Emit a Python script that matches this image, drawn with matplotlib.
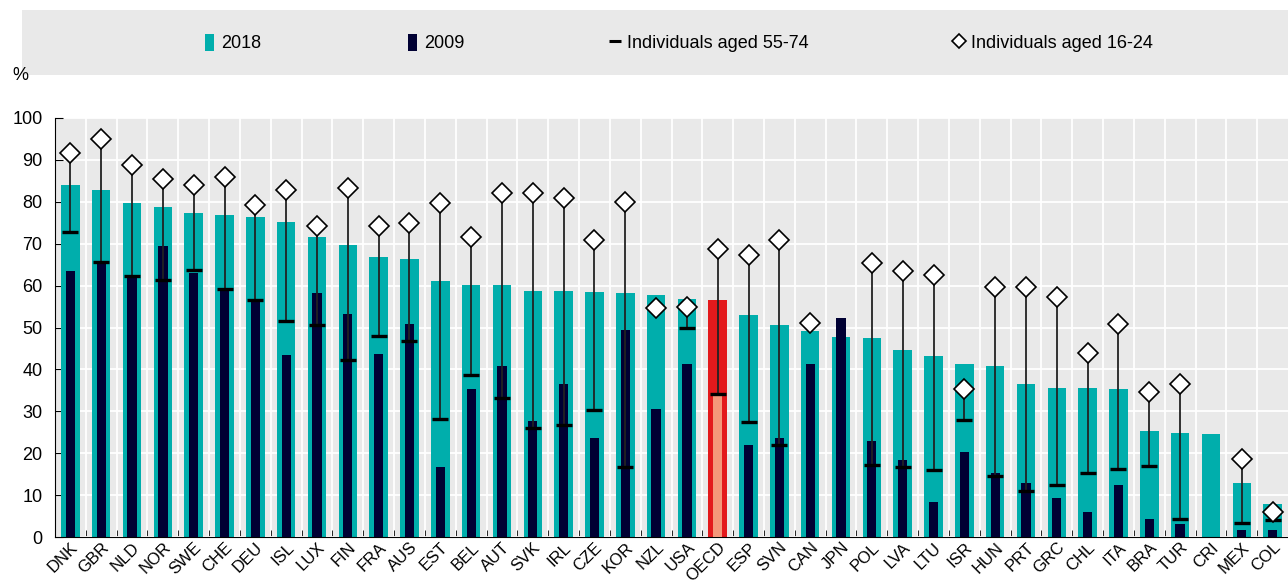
import matplotlib
matplotlib.use("Agg")
import matplotlib.pyplot as plt
import numpy as np
from matplotlib.lines import Line2D
from matplotlib.patches import Patch, Rectangle

plt.rcParams['font.family'] = ['Liberation Sans', 'DejaVu Sans']

countries = ["DNK", "GBR", "NLD", "NOR", "SWE", "CHE", "DEU", "ISL", "LUX", "FIN",
             "FRA", "AUS", "EST", "BEL", "AUT", "SVK", "IRL", "CZE", "KOR", "NZL",
             "USA", "OECD", "ESP", "SVN", "CAN", "JPN", "POL", "LVA", "LTU", "ISR",
             "HUN", "PRT", "GRC", "CHL", "ITA", "BRA", "TUR", "CRI", "MEX", "COL"]
nan = np.nan
val_2018 = [84.0, 82.7, 79.7, 78.7, 77.4, 76.8, 76.4, 75.1, 71.5, 69.8,
            66.8, 66.4, 61.1, 60.1, 60.1, 58.8, 58.8, 58.5, 58.2, 57.8,
            56.8, 56.5, 53.1, 50.5, 49.2, 47.8, 47.5, 44.6, 43.2, 41.2,
            40.9, 36.5, 35.6, 35.6, 35.3, 25.2, 24.9, 24.6, 13.0, 7.9]
val_2009 = [63.4, 65.7, 62.2, 69.5, 62.9, 59.1, 56.5, 43.5, 58.2, 53.2,
            43.6, 50.8, 16.6, 35.3, 40.9, 27.6, 36.5, 23.6, 49.5, 30.5,
            41.2, 34.3, 21.9, 23.6, 41.2, 52.2, 22.9, 18.3, 8.4, 20.3,
            15.3, 13.0, 9.3, 6.0, 12.3, 4.4, 3.0, nan, 1.7, 1.7]
aged_55_74 = [72.7, 65.7, 62.2, 61.4, 63.8, 59.1, 56.5, 51.5, 50.5, 42.2,
              47.9, 46.8, 28.2, 38.6, 33.2, 25.9, 26.7, 30.2, 16.6, nan,
              49.8, 34.2, 27.5, 22.0, nan, nan, 17.3, 16.6, 15.9, 27.9,
              14.6, 11.0, 12.3, 15.3, 16.3, 16.9, 4.4, nan, 3.3, 4.0]
aged_16_24 = [91.6, 94.9, 88.9, 85.5, 83.9, 85.9, 79.2, 82.9, 74.2, 83.2,
              74.2, 74.9, 79.6, 71.6, 82.0, 82.0, 80.9, 71.0, 80.0, 54.6,
              55.0, 68.7, 67.2, 71.0, 51.0, nan, 65.3, 63.6, 62.6, 35.4,
              59.7, 59.7, 57.3, 44.0, 50.8, 34.7, 36.4, nan, 18.5, 6.0]

teal = "#00AEAC"
navy = "#000033"
bg = "#E9E9E9"
fs = 13

x = np.arange(len(countries))
c2018 = ["#E3191C" if c == "OECD" else teal for c in countries]
c2009 = ["#F4977A" if c == "OECD" else navy for c in countries]

fig = plt.figure(figsize=(12.88, 5.88), dpi=100)
ax = fig.add_axes([55 / 1288, 1 - 537 / 588, 1 - 55 / 1288, (537 - 118) / 588])
ax.set_facecolor(bg)

ax.bar(x, val_2018, width=0.6, color=c2018, zorder=2)
ax.bar(x, np.nan_to_num(val_2009), width=0.3, color=c2009, zorder=3)

old = np.array(aged_55_74)
young = np.array(aged_16_24)
both = ~np.isnan(old) & ~np.isnan(young)
ax.vlines(x[both], old[both], young[both], color="#222222", lw=1.3, zorder=4)
ax.plot(x, old, ls="none", marker="_", ms=11, mew=2.4, color="black", zorder=5)
ax.plot(x, young, ls="none", marker="D", ms=10, mfc="white", mec="black", mew=1.2, zorder=6)

ax.set_xlim(-0.5, len(countries) - 0.5)
ax.set_ylim(0, 100)
ax.set_yticks(np.arange(0, 101, 10))
ax.set_xticks(x)
ax.set_xticklabels(countries, rotation=45, ha="right", va="top", rotation_mode="anchor")
ax.set_xticks(x[:-1] + 0.5, minor=True)
ax.tick_params(axis="x", which="major", length=0, labelsize=12, pad=2)
ax.tick_params(axis="x", which="minor", direction="in", length=5, color="black")
ax.tick_params(axis="y", direction="in", length=6, labelsize=fs, pad=9)
ax.grid(axis="y", color="white", lw=1.3, zorder=0)
ax.grid(axis="x", which="minor", color="white", lw=1.3, zorder=0)
ax.set_axisbelow(True)
for s in ["top", "right"]:
    ax.spines[s].set_visible(False)
ax.spines["left"].set_color("black")
ax.spines["bottom"].set_color("black")

fig.text(20 / 1288, 1 - 76 / 588, "%", fontsize=fs, ha="center", va="center")

# legend band
fig.patches.append(Rectangle((22 / 1288, 1 - 75 / 588), 1 - 22 / 1288, 65 / 588,
                             transform=fig.transFigure, facecolor=bg, edgecolor="none", zorder=0))
handles = [
    Patch(facecolor=teal, edgecolor="none"),
    Patch(facecolor=navy, edgecolor="none"),
    Line2D([], [], ls="none", marker="_", ms=8, mew=2.2, color="black"),
    Line2D([], [], ls="none", marker="D", ms=7, mfc="white", mec="black", mew=1.2),
]
labels = ["2018", "2009", "Individuals aged 55-74", "Individuals aged 16-24"]
fig.legend(handles, labels, loc="center left", bbox_to_anchor=(189 / 1288, 1 - 43 / 588),
           ncol=4, frameon=False, fontsize=fs, handlelength=0.5, handleheight=1.1,
           handletextpad=0.4, columnspacing=8.1)

fig.savefig("out.png", dpi=100)
